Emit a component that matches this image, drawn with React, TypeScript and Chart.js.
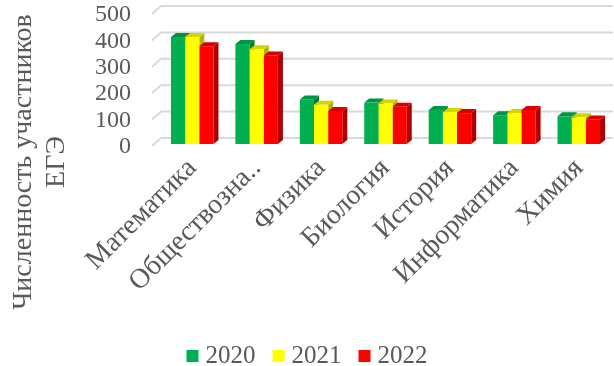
import React, { useEffect, useRef } from "react";
import { Chart, registerables } from "chart.js";

Chart.register(...registerables);

const categories = ["Математика", "Обществозна..", "Физика", "Биология", "История", "Информатика", "Химия"];
const years = ["2020", "2021", "2022"];
const values2020 = [405, 379, 169, 157, 129, 109, 105];
const values2021 = [405, 359, 149, 153, 121, 117, 101];
const values2022 = [370, 335, 125, 141, 117, 129, 93];
const yTicks = [0, 100, 200, 300, 400, 500];
const yTitle = ["Численность участников", "ЕГЭ"];

const frontColors = ["#00B050", "#FFFF00", "#FF0000"];
const sideColors = ["#007A37", "#B3B300", "#B00000"];
const topColors = ["#009444", "#D4D400", "#D90000"];
const FONT = "'Liberation Serif', 'Times New Roman', serif";
const TEXT = "#595959";
const GRID = "#D9D9D9";

const bar3d = {
  id: "bar3d",
  beforeDatasetsDraw(chart: any) {
    const ctx = chart.ctx;
    const dx = 5;
    const dy = 4;
    const back = 6;
    const ys = chart.scales.y;
    const { left, right } = chart.chartArea;
    ctx.save();
    ctx.strokeStyle = GRID;
    ctx.lineWidth = 2;
    ys.ticks.forEach((t: any) => {
      const g = ys.getPixelForValue(t.value) - back;
      ctx.beginPath();
      ctx.moveTo(left - 8, g + 8);
      ctx.lineTo(left + 1, g);
      ctx.lineTo(right + 2, g);
      ctx.stroke();
    });
    ctx.restore();
    chart.data.datasets.forEach((ds: any, i: number) => {
      const meta = chart.getDatasetMeta(i);
      meta.data.forEach((el: any) => {
        const { x, y, base, width } = el.getProps(["x", "y", "base", "width"], true);
        const l = x - width / 2;
        const r = x + width / 2;
        ctx.save();
        ctx.fillStyle = sideColors[i];
        ctx.beginPath();
        ctx.moveTo(r, y);
        ctx.lineTo(r + dx, y - dy);
        ctx.lineTo(r + dx, base - dy);
        ctx.lineTo(r, base);
        ctx.closePath();
        ctx.fill();
        ctx.fillStyle = topColors[i];
        ctx.beginPath();
        ctx.moveTo(l, y);
        ctx.lineTo(l + dx, y - dy);
        ctx.lineTo(r + dx, y - dy);
        ctx.lineTo(r, y);
        ctx.closePath();
        ctx.fill();
        ctx.restore();
      });
    });
  },
  afterDraw(chart: any) {
    const ctx = chart.ctx;
    ctx.save();
    ctx.fillStyle = TEXT;
    ctx.font = `28px ${FONT}`;
    ctx.textAlign = "center";
    ctx.textBaseline = "alphabetic";
    const baselines = [31, 64];
    yTitle.forEach((line, i) => {
      ctx.save();
      ctx.translate(baselines[i], 162);
      ctx.rotate(-Math.PI / 2);
      ctx.fillText(line, 0, 0);
      ctx.restore();
    });
    // legend
    ctx.font = `25px ${FONT}`;
    ctx.textAlign = "left";
    const box = 12;
    const gap = 7;
    const spacing = 17;
    const labels = chart.data.datasets.map((d: any) => d.label as string);
    const widths = labels.map((t: string) => box + gap + ctx.measureText(t).width);
    const total = widths.reduce((a: number, b: number) => a + b, 0) + spacing * (labels.length - 1);
    let x = (chart.width - total) / 2;
    const baseY = 363;
    labels.forEach((t: string, i: number) => {
      ctx.fillStyle = frontColors[i];
      ctx.fillRect(x, baseY - 13, box, box);
      ctx.fillStyle = TEXT;
      ctx.fillText(t, x + box + gap, baseY);
      x += widths[i] + spacing;
    });
    ctx.restore();
  },
};

export default function App() {
  const ref = useRef<HTMLCanvasElement | null>(null);
  useEffect(() => {
    document.body.style.margin = "0";
    const chart = new Chart(ref.current!, {
      type: "bar",
      data: {
        labels: categories,
        datasets: [values2020, values2021, values2022].map((d, i) => ({
          label: years[i],
          data: d,
          backgroundColor: frontColors[i],
          borderWidth: 0,
          categoryPercentage: 0.66,
          barPercentage: 1,
        })),
      },
      options: {
        animation: false,
        responsive: false,
        maintainAspectRatio: false,
        layout: { padding: { left: 0, right: 3, top: 12, bottom: 30 } },
        plugins: {
          legend: { display: false },
          tooltip: { enabled: false },
        },
        scales: {
          x: {
            grid: { display: false },
            border: { display: false },
            afterFit: (s: any) => {
              s.height = 192;
              s.paddingLeft = 0;
              s.paddingRight = 0;
            },
            ticks: {
              minRotation: 45,
              maxRotation: 45,
              autoSkip: false,
              color: TEXT,
              font: { family: FONT, size: 28 },
              padding: 0,
            },
          },
          y: {
            min: 0,
            max: 500,
            afterBuildTicks: (axis: any) => {
              axis.ticks = yTicks.map((v) => ({ value: v }));
            },
            afterFit: (s: any) => {
              s.width = 160;
              s.paddingTop = 0;
              s.paddingBottom = 0;
            },
            grid: { display: false, drawTicks: false },
            border: { display: false },
            ticks: {
              autoSkip: false,
              color: TEXT,
              font: { family: FONT, size: 24 },
              padding: 29,
              labelOffset: 3,
            },
            title: { display: false },
          },
        },
      },
      plugins: [bar3d],
    });
    return () => chart.destroy();
  }, []);
  return (
    <div style={{ position: "absolute", left: 0, top: 0, width: 614, height: 366, background: "#fff" }}>
      <canvas ref={ref} width={614} height={366} />
    </div>
  );
}
